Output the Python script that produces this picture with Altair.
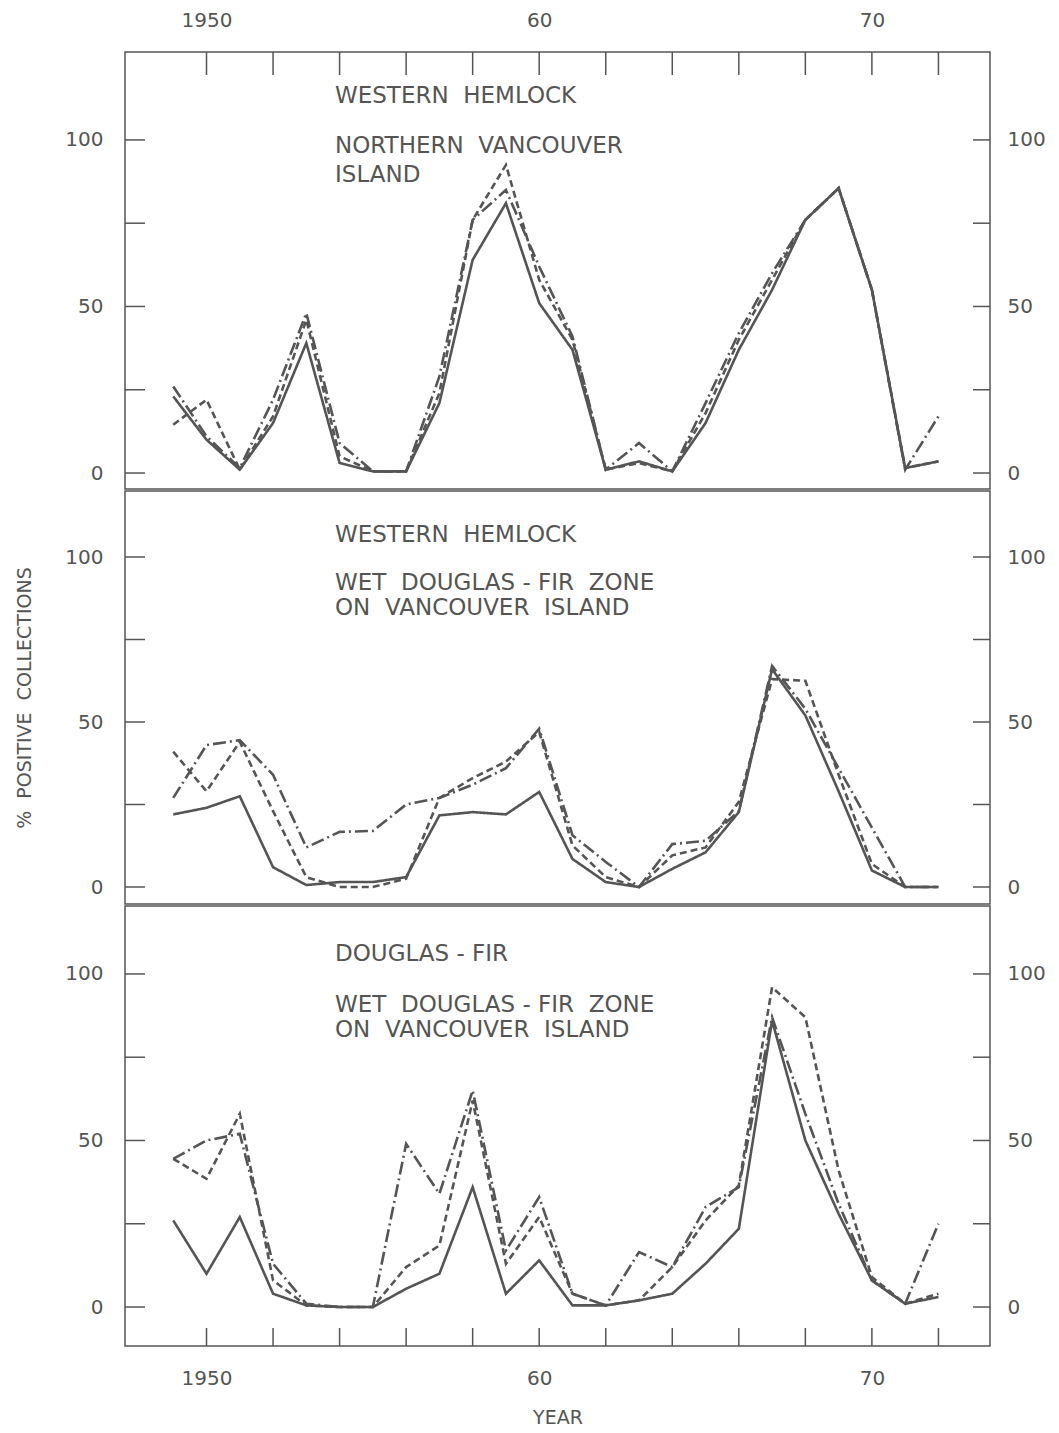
import altair as alt
import pandas as pd

# ---------------- data ----------------
years = list(range(1949, 1973))

series_names = ["solid", "dashed", "dash-dot"]

# Panel 1: Western hemlock, Northern Vancouver Island
p1_solid   = [23, 10, 1, 15, 39, 3, 0.5, 0.5, 21, 64, 81, 51, 37, 1, 3.5, 0.5, 15, 37, 55, 76, 85.5, 55, 1.5, 3.5]
p1_dashed  = [14.5, 22, 1, 17, 46, 5, 0.5, 0.5, 24, 76, 92.5, 58, 40, 1, 3, 0.5, 18, 40, 58, 76, 85.5, 55, 1.5, 3.5]
p1_dashdot = [26, 11, 1.5, 22, 48, 9, 0.5, 0.5, 29, 76, 85, 62, 41, 1, 9, 0.5, 21, 42, 60, 76, 85.5, 55, 1, 17]

# Panel 2: Western hemlock, Wet Douglas-fir zone on Vancouver Island
p2_solid   = [22, 24, 27.5, 6, 0.6, 1.5, 1.5, 3, 21.7, 22.7, 22, 28.8, 8.5, 1.5, 0, 5.5, 10.5, 22.7, 66, 52, 29, 5, 0, 0]
p2_dashed  = [41, 29, 44, 23, 3, 0, 0, 2.5, 27, 33, 38, 47, 12.6, 3, 0, 9.6, 12, 25.8, 63, 62.5, 34, 7, 0, 0]
p2_dashdot = [27, 43, 44.5, 34, 12, 16.7, 17, 25, 27, 31, 36, 48, 15.7, 7.6, 0, 13, 14, 23, 67, 54, 36, 18, 0, 0]

# Panel 3: Douglas-fir, Wet Douglas-fir zone on Vancouver Island
p3_solid   = [26, 10, 27, 4, 0.5, 0, 0, 5.5, 10, 36, 4, 14, 0.5, 0.5, 2, 4, 13, 23.5, 86, 50, 28, 8, 1, 3]
p3_dashed  = [44.5, 38.5, 58, 8, 0.5, 0, 0, 12, 18.5, 62, 13, 27, 4, 0.5, 2, 12, 26, 36.5, 96, 87, 41, 9, 1, 4]
p3_dashdot = [44.5, 50, 52, 13, 1, 0, 0, 49, 34, 65, 17, 33, 4, 0.5, 16.5, 12, 30, 36, 87, 58, 31, 8, 1, 25]

NB = "\u00a0"
panel_texts = [
    [f"WESTERN{NB} HEMLOCK", f"NORTHERN{NB} VANCOUVER", "ISLAND"],
    [f"WESTERN{NB} HEMLOCK", f"WET{NB} DOUGLAS - FIR{NB} ZONE", f"ON{NB} VANCOUVER{NB} ISLAND"],
    ["DOUGLAS - FIR", f"WET{NB} DOUGLAS - FIR{NB} ZONE", f"ON{NB} VANCOUVER{NB} ISLAND"],
]

y_tick_values = [0, 25, 50, 75, 100]
y_label_values = [0, 50, 100]
x_tick_values = list(range(1950, 1973, 2))
x_label_values = [1950, 1960, 1970]
x_label_texts = ["1950", "60", "70"]

y_title = f"%{NB} POSITIVE{NB} COLLECTIONS"
x_title = "YEAR"

# ---------------- styling ----------------
INK = "#555555"
FONT = "DejaVu Sans"
W = 865
XDOM = [1947.55, 1973.55]
LABEL_SIZE = 20

label_expr = " : ".join(
    [f"datum.value == {v} ? '{t}'" for v, t in zip(x_label_values, x_label_texts)] + ["''"]
)


def long_df(solid, dashed, dashdot):
    rows = []
    for name, vals in zip(series_names, [solid, dashed, dashdot]):
        for yr, v in zip(years, vals):
            rows.append({"year": yr, "value": v, "series": name})
    return pd.DataFrame(rows)


def make_xaxis(orient):
    if orient == "top":
        return alt.Axis(orient="top", values=x_label_values, labelExpr=label_expr, ticks=False,
                        domain=False, grid=False, labelPadding=22, labelFontSize=LABEL_SIZE,
                        labelColor=INK, labelFont=FONT, title=None)
    if orient == "bottom":
        return alt.Axis(orient="bottom", values=x_label_values, labelExpr=label_expr, ticks=False,
                        domain=False, grid=False, labelPadding=22, labelFontSize=LABEL_SIZE,
                        labelColor=INK, labelFont=FONT, title=x_title, titlePadding=20,
                        titleFontSize=19, titleFontWeight="normal", titleColor=INK, titleFont=FONT)
    return None


def panel(df, ydom, h, texts, baselines, xaxis_orient=None, ytitle=None):
    xscale = alt.Scale(domain=XDOM, nice=False, zero=False)
    yscale = alt.Scale(domain=ydom, nice=False, zero=False)

    left_axis_kw = dict(values=y_label_values, ticks=False, domain=False, grid=False,
                        labelPadding=22, labelFontSize=LABEL_SIZE, labelColor=INK, labelFont=FONT)
    if ytitle:
        left_axis_kw.update(title=ytitle, titlePadding=30, titleFontSize=19,
                            titleFontWeight="normal", titleColor=INK, titleFont=FONT)
    else:
        left_axis_kw.update(title=None)

    xaxis = make_xaxis(xaxis_orient)

    lines = alt.Chart(df).mark_line(strokeWidth=2.6, color=INK, clip=True).encode(
        x=alt.X("year:Q", scale=xscale, axis=xaxis),
        y=alt.Y("value:Q", scale=yscale, axis=alt.Axis(**left_axis_kw)),
        strokeDash=alt.StrokeDash("series:N", scale=alt.Scale(
            domain=series_names, range=[[1, 0], [7, 4], [13, 4, 2, 4]]), legend=None),
        detail="series:N",
    )

    ytick_df = pd.DataFrame({"value": y_tick_values})
    left_ticks = alt.Chart(ytick_df).mark_rule(color=INK, strokeWidth=1.5).encode(
        x=alt.value(0), x2=alt.value(20),
        y=alt.Y("value:Q", scale=yscale, axis=None),
    )
    right_ticks = alt.Chart(ytick_df).mark_rule(color=INK, strokeWidth=1.5).encode(
        y=alt.Y("value:Q", scale=yscale, axis=alt.Axis(
            orient="right", values=y_label_values, ticks=False, domain=False, grid=False,
            labelPadding=17, labelFontSize=LABEL_SIZE, labelColor=INK, labelFont=FONT, title=None)),
        x=alt.value(W - 17), x2=alt.value(W),
    )

    layers = [lines, left_ticks, right_ticks]

    if xaxis_orient is not None:
        xtick_df = pd.DataFrame({"year": x_tick_values})
        if xaxis_orient == "top":
            xt = alt.Chart(xtick_df).mark_rule(color=INK, strokeWidth=1.5).encode(
                x=alt.X("year:Q", scale=xscale, axis=xaxis), y=alt.value(0), y2=alt.value(23))
        else:
            xt = alt.Chart(xtick_df).mark_rule(color=INK, strokeWidth=1.5).encode(
                x=alt.X("year:Q", scale=xscale, axis=xaxis), y=alt.value(h - 18), y2=alt.value(h))
        layers.append(xt)

    for t, b in zip(texts, baselines):
        layers.append(
            alt.Chart(pd.DataFrame({"t": [t]})).mark_text(
                align="left", baseline="alphabetic", fontSize=23, font=FONT, color=INK
            ).encode(text="t:N", x=alt.value(210), y=alt.value(b))
        )

    return alt.layer(*layers).resolve_scale(y="independent").properties(width=W, height=h)


p1 = panel(long_df(p1_solid, p1_dashed, p1_dashdot), [-4.8, 126.4], 437,
           panel_texts[0], [51, 101, 130], xaxis_orient="top")
p2 = panel(long_df(p2_solid, p2_dashed, p2_dashdot), [-5.15, 120], 413,
           panel_texts[1], [51, 99, 124], ytitle=y_title)
p3 = panel(long_df(p3_solid, p3_dashed, p3_dashdot), [-11.7, 120.4], 440,
           panel_texts[2], [55, 106, 131], xaxis_orient="bottom")

chart = alt.vconcat(p1, p2, p3, spacing=0).properties(
    padding={"left": 15, "top": 9, "right": 5, "bottom": 2},
    background="white",
).configure_view(stroke=INK, strokeWidth=1.5).configure_concat(spacing=0)

chart.save("out.html", embed_options={"renderer": "svg", "actions": False})
